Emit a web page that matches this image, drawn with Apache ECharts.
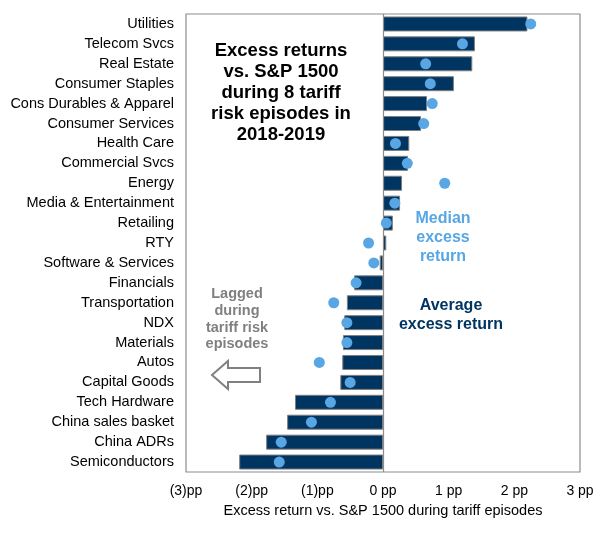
<!DOCTYPE html>
<html>
<head>
<meta charset="utf-8">
<script src="https://cdn.jsdelivr.net/npm/echarts@6/dist/echarts.min.js"></script>
<style>html,body{margin:0;padding:0;background:#fff;}#c{width:609px;height:535px;}</style>
</head>
<body>
<div id="c"></div>
<script>
const categories = ["Utilities","Telecom Svcs","Real Estate","Consumer Staples","Cons Durables & Apparel","Consumer Services","Health Care","Commercial Svcs","Energy","Media & Entertainment","Retailing","RTY","Software & Services","Financials","Transportation","NDX","Materials","Autos","Capital Goods","Tech Hardware","China sales basket","China ADRs","Semiconductors"];
const averageReturn = [2.20,1.40,1.36,1.08,0.67,0.58,0.40,0.38,0.29,0.26,0.15,0.05,-0.05,-0.44,-0.55,-0.59,-0.61,-0.62,-0.65,-1.34,-1.46,-1.78,-2.19];
const medianReturn = [2.25,1.21,0.65,0.72,0.75,0.62,0.19,0.37,0.94,0.18,0.05,-0.22,-0.14,-0.41,-0.75,-0.55,-0.55,-0.97,-0.50,-0.80,-1.09,-1.55,-1.58];
const xTicks = [-3,-2,-1,0,1,2,3];

const FONT = '"Liberation Sans", Arial, sans-serif';
const chart = echarts.init(document.getElementById('c'), null, {renderer:'canvas'});
function fmt(v){ if (v < 0) return '(' + Math.abs(v) + ')pp'; return v + ' pp'; }
chart.setOption({
  animation:false,
  grid:{left:186,right:29,top:14,bottom:63,show:true,borderColor:'#8c8c8c',borderWidth:1.2,containLabel:false},
  xAxis:{type:'value',min:xTicks[0],max:xTicks[xTicks.length-1],interval:1,
    axisLine:{show:false},axisTick:{show:false},splitLine:{show:false},
    axisLabel:{formatter:fmt,color:'#000',fontFamily:FONT,fontSize:14,margin:12},
    name:'Excess return vs. S&P 1500 during tariff episodes',nameLocation:'middle',nameGap:31,
    nameTextStyle:{color:'#000',fontFamily:FONT,fontSize:14.5}},
  yAxis:{type:'category',data:categories,inverse:true,
    axisLine:{show:false},axisTick:{show:false},splitLine:{show:false},
    axisLabel:{color:'#000',fontFamily:FONT,fontSize:14.5,margin:12}},
  series:[
    {type:'bar',data:averageReturn,barWidth:15,
      itemStyle:{color:'#003562',borderColor:'#7f7f7f',borderWidth:1},
      markLine:{silent:true,symbol:'none',label:{show:false},lineStyle:{color:'#8c8c8c',type:'solid',width:1.2},data:[{xAxis:0}]}},
    {type:'scatter',data:medianReturn,symbol:'circle',symbolSize:11,itemStyle:{color:'#58a6e3',opacity:1},z:5}
  ],
  graphic:[
    {type:'text',x:281,y:40,style:{text:'Excess returns\nvs. S&P 1500\nduring 8 tariff\nrisk episodes in\n2018-2019',fontFamily:FONT,fontSize:18.5,fontWeight:'bold',fill:'#000',align:'center',verticalAlign:'top',lineHeight:21}},
    {type:'text',x:443,y:209,style:{text:'Median\nexcess\nreturn',fontFamily:FONT,fontSize:16,fontWeight:'bold',fill:'#58a6e3',align:'center',verticalAlign:'top',lineHeight:19}},
    {type:'text',x:451,y:296,style:{text:'Average\nexcess return',fontFamily:FONT,fontSize:16,fontWeight:'bold',fill:'#003562',align:'center',verticalAlign:'top',lineHeight:19}},
    {type:'text',x:237,y:286,style:{text:'Lagged\nduring\ntariff risk\nepisodes',fontFamily:FONT,fontSize:14.5,fontWeight:'bold',fill:'#808080',align:'center',verticalAlign:'top',lineHeight:16.7}},
    {type:'polygon',shape:{points:[[212,375],[228,361],[228,368],[260,368],[260,382],[228,382],[228,389]]},style:{fill:'#fff',stroke:'#808080',lineWidth:2}}
  ]
});
</script>
</body>
</html>
